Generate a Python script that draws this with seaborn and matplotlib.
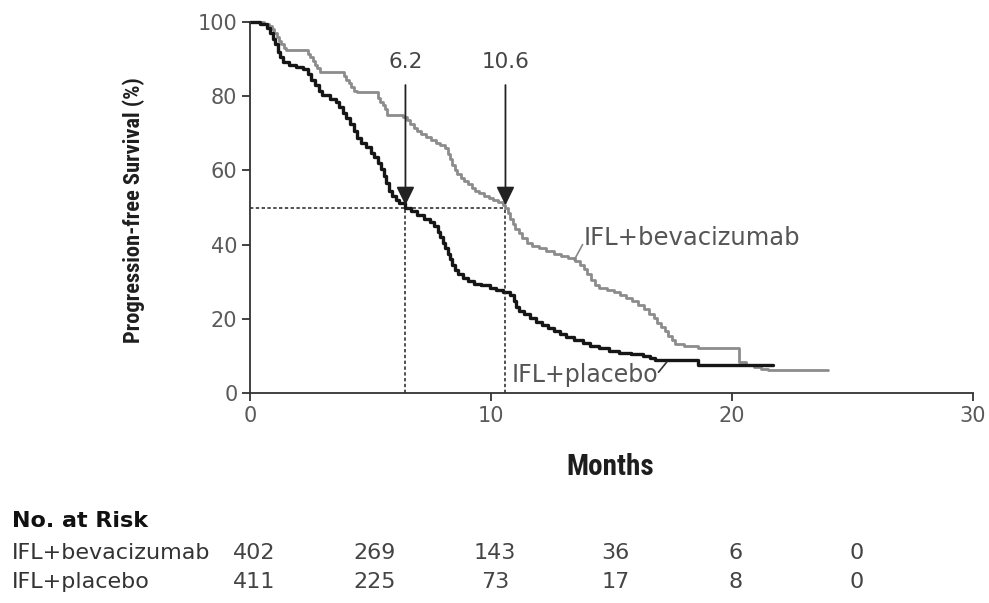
import numpy as np
import pandas as pd
import matplotlib
matplotlib.use('Agg')
import matplotlib.pyplot as plt
import matplotlib.transforms as mtransforms
from matplotlib import font_manager
import seaborn as sns

# Kaplan-Meier curves (months, % progression-free)
bev_months = [0, 0.6, 0.8, 0.9, 1.0, 1.1, 1.2, 1.3, 1.4, 1.5,
              2.4, 2.5, 2.6, 2.7, 2.8, 2.9,
              3.9, 4.0, 4.1, 4.2, 4.3, 4.45,
              5.3, 5.4, 5.5, 5.6, 5.7,
              6.35, 6.5, 6.65, 6.8, 6.95, 7.1, 7.3, 7.5, 7.7, 7.9, 8.1, 8.2, 8.3, 8.4,
              8.5, 8.6, 8.75, 8.9, 9.05, 9.2, 9.35, 9.5, 9.7, 9.9, 10.1, 10.3, 10.5,
              10.6, 10.7, 10.8, 10.9, 11.0, 11.15, 11.3, 11.5, 11.7, 12.0, 12.3, 12.6,
              12.9, 13.2, 13.5, 13.7, 13.85, 14.0, 14.15, 14.3, 14.5, 14.8, 15.1, 15.35,
              15.6, 15.85, 16.1, 16.35, 16.55, 16.75, 16.9, 17.05, 17.2, 17.35, 17.5,
              17.65, 18.0, 18.6, 20.3, 20.6, 20.9, 21.2, 21.5, 24.0]
bev_pfs = [100, 99.5, 99, 98, 97, 96, 95, 94, 93, 92.5,
           91.5, 90.5, 89.5, 88.5, 87.5, 86.5,
           85.5, 84.5, 83.5, 82.5, 81.5, 81,
           79.5, 78.5, 77.5, 76.5, 75,
           74.5, 73.5, 72.5, 71.5, 70.5, 69.8, 69, 68.3, 67.5, 66.8, 66, 64.5, 63, 61.5,
           60, 59, 58, 57.2, 56.2, 55.2, 54.4, 53.8, 53.2, 52.6, 52, 51.4, 50.8,
           50, 48.5, 47, 45.6, 44.3, 43, 41.7, 40.5, 39.5, 39, 38.4, 37.6,
           37, 36.3, 35.5, 34.5, 33.3, 32, 30.5, 29, 28.3, 27.7, 27.2, 26.5,
           25.6, 24.7, 23.8, 22.6, 21.4, 20.2, 19, 17.8, 16.6, 15.4, 14.2,
           13.3, 12.8, 12.1, 8.4, 7.6, 7, 6.5, 6.2, 6.2]

pbo_months = [0, 0.4, 0.7, 0.85, 0.95, 1.05, 1.15, 1.25, 1.35, 1.6, 1.9, 2.2, 2.4, 2.55,
              2.7, 2.85, 3.0, 3.3, 3.55, 3.7, 3.85, 4.0, 4.15, 4.3, 4.45, 4.6, 4.8, 5.0,
              5.15, 5.3, 5.45, 5.55, 5.65, 5.75, 5.9, 6.05, 6.2, 6.45, 6.7, 6.95, 7.2,
              7.45, 7.65, 7.8, 7.9, 8.0, 8.1, 8.2, 8.3, 8.4, 8.5, 8.65, 8.85, 9.05, 9.3,
              9.6, 9.95, 10.2, 10.5, 10.8, 10.95, 11.05, 11.15, 11.35, 11.6, 11.85, 12.1,
              12.35, 12.6, 12.85, 13.1, 13.45, 13.8, 14.1, 14.5, 14.9, 15.3, 15.8, 16.3,
              16.6, 16.8, 18.6, 21.7]
pbo_pfs = [100, 99.5, 98.5, 97, 95.5, 94, 92, 90.5, 89.2, 88.5, 88, 87.3, 86, 84.5,
           83, 81.5, 80.3, 79.3, 78.4, 77, 75.5, 74, 72.5, 70.5, 68.7, 67.5, 66.3, 64.8,
           63.5, 62, 60.3, 58.5, 56.5, 54.5, 53, 52, 51.2, 50, 49, 48, 47,
           46, 45, 43.5, 42, 40.5, 39, 37.5, 36, 34.5, 33.2, 32, 31, 30.2, 29.5,
           29, 28.4, 27.7, 27.2, 26.3, 24.8, 23.3, 22, 21.2, 20.3, 19.2, 18.2,
           17.4, 16.6, 15.8, 15.1, 14.3, 13.5, 12.8, 12.1, 11.3, 10.8, 10.4, 10,
           9.5, 8.9, 7.5, 7.5]

median_pos = [6.45, 10.6]
median_text = ['6.2', '10.6']

risk_months = [0, 5, 10, 15, 20, 25]
risk_bev = [402, 269, 143, 36, 6, 0]
risk_pbo = [411, 225, 73, 17, 8, 0]
group_names = ['IFL+bevacizumab', 'IFL+placebo']

sns.set_style('ticks')

# pick a narrow face for the axis titles if one is installed
names = {f.name for f in font_manager.fontManager.ttflist}
narrow = None
for cand in ['Liberation Sans Narrow', 'DejaVu Sans Condensed', 'Roboto Condensed']:
    if cand in names:
        narrow = cand
        break
if narrow is None:
    narrow = 'DejaVu Sans'
plt.rcParams['font.family'] = ['DejaVu Sans']

fig = plt.figure(figsize=(9.89, 6.03), dpi=100)
ax = fig.add_axes([250 / 989, 210 / 603, 723 / 989, 371 / 603])

bev_df = pd.DataFrame({'Months': bev_months, 'PFS': bev_pfs})
pbo_df = pd.DataFrame({'Months': pbo_months, 'PFS': pbo_pfs})
sns.lineplot(data=bev_df, x='Months', y='PFS', ax=ax, estimator=None, sort=False,
             drawstyle='steps-post', color='#8c8c8c', linewidth=2.0, clip_on=False)
sns.lineplot(data=pbo_df, x='Months', y='PFS', ax=ax, estimator=None, sort=False,
             drawstyle='steps-post', color='#161616', linewidth=2.4, clip_on=False)

ax.set_xlim(0, 30)
ax.set_ylim(0, 100)
ax.set_xticks([0, 10, 20, 30])
ax.set_yticks([0, 20, 40, 60, 80, 100])
sns.despine(ax=ax)
for s in ['left', 'bottom']:
    ax.spines[s].set_color('#333333')
    ax.spines[s].set_linewidth(1.3)
ax.tick_params(direction='out', length=6, width=1.3, color='#333333',
               labelsize=15, labelcolor='#5a5a5a', pad=3)
ax.set_xlabel('')
ax.set_ylabel('Progression-free Survival (%)', fontsize=16.2, color='#1e1e1e',
              family=narrow, fontweight='bold')
ax.yaxis.set_label_coords(-0.145, 0.493)
ax.text(0.498, -0.2, 'Months', transform=ax.transAxes, ha='center', va='center',
        fontsize=21, color='#1e1e1e', family=narrow, fontweight='bold')

# median markers
dash = (0, (2.2, 1.6))
ax.plot([0, median_pos[1]], [50, 50], color='#222222', lw=1.1, ls=dash)
for xm, lab in zip(median_pos, median_text):
    ax.plot([xm, xm], [0, 50], color='#222222', lw=1.1, ls=dash)
    ax.annotate('', xy=(xm, 50.6), xytext=(xm, 83),
                arrowprops=dict(arrowstyle='-|>,head_length=0.45,head_width=0.22',
                                color='#222222', lw=1.3, mutation_scale=25,
                                shrinkA=0, shrinkB=0))
    ax.text(xm, 89.3, lab, ha='center', va='center', fontsize=15.5, color='#444444')

# curve labels with leader ticks
ax.text(13.85, 41.8, group_names[0], ha='left', va='center', fontsize=17.5, color='#555555')
ax.plot([13.8, 13.45], [40.0, 35.8], color='#888888', lw=1.2)
ax.text(10.85, 4.9, group_names[1], ha='left', va='center', fontsize=17, color='#555555')
ax.plot([16.95, 17.3], [5.6, 8.4], color='#333333', lw=1.2)

# number at risk table
fig.text(12 / 989, 1 - 521 / 603, 'No. at Risk', ha='left', va='center',
         fontsize=16, color='#111111', fontweight='bold')
row_y = [1 - 553 / 603, 1 - 582 / 603]
trans = mtransforms.blended_transform_factory(ax.transData, fig.transFigure)
trans = mtransforms.offset_copy(trans, fig=fig, x=4, y=0, units='dots')
for yy, name, counts in zip(row_y, group_names, [risk_bev, risk_pbo]):
    fig.text(12 / 989, yy, name, ha='left', va='center', fontsize=16, color='#333333')
    for m, c in zip(risk_months, counts):
        ax.text(m, yy, str(c), transform=trans, ha='center', va='center',
                fontsize=16, color='#444444', clip_on=False)

fig.savefig('out.png', dpi=100)
